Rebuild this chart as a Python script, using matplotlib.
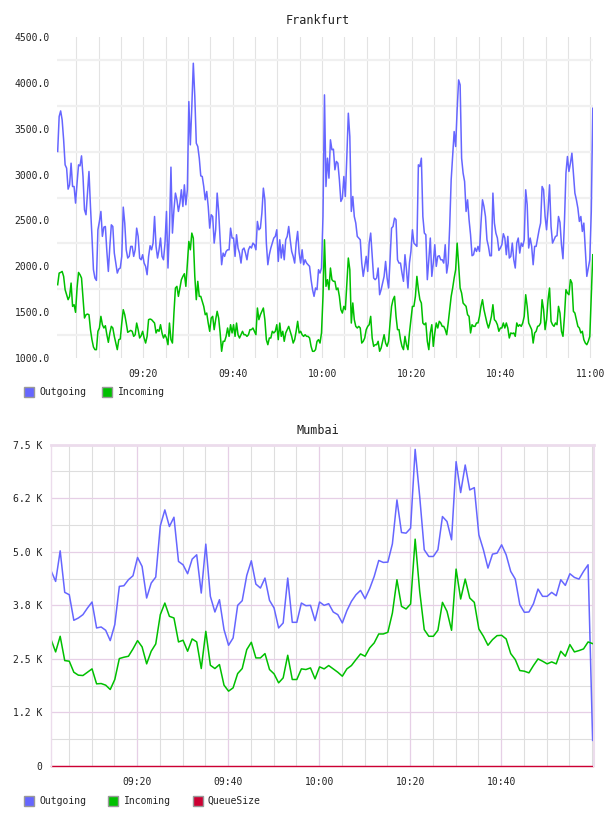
import numpy as np
import pandas as pd
import matplotlib
matplotlib.use("Agg")
import matplotlib.pyplot as plt
import matplotlib.dates as mdates
from matplotlib.patches import Rectangle
from matplotlib.ticker import FuncFormatter, MultipleLocator, FixedLocator

plt.rcParams['font.family'] = ['DejaVu Sans Mono']

# ---- Frankfurt, one sample every 20 s from 09:00:52 ----
fra_start = "2024-01-01 09:00:52"
fra_out = [
    3252, 3633, 3694, 3596, 3379, 3106, 3070, 2841, 2888, 3124, 2870, 2870, 2689, 2906, 3106, 3095,
    3204, 2979, 2616, 2562, 2798, 3034, 2652, 2326, 1963, 1872, 1846, 2398, 2489, 2598, 2326, 2427,
    2434, 2162, 1944, 2217, 2452, 2434, 2144, 2035, 1926, 1970, 1981, 2108, 2645, 2471, 2180, 2090,
    2108, 2217, 2217, 2108, 2180, 2416, 2326, 2090, 2071, 2126, 2035, 1999, 1908, 2108, 2224, 2180,
    2253, 2543, 2217, 2090, 2180, 2308, 2108, 2071, 2253, 2598, 1981, 2398, 3081, 2362, 2616, 2798,
    2725, 2598, 2689, 2834, 2652, 2888, 2670, 2834, 3796, 3324, 3741, 4214, 3851, 3342, 3306, 3179,
    2986, 2979, 2870, 2725, 2816, 2652, 2416, 2562, 2543, 2253, 2398, 2798, 2598, 2289, 2017, 2144,
    2108, 2162, 2180, 2180, 2416, 2308, 2308, 2108, 2344, 2199, 2144,
    2035, 2180, 2199, 2144, 2071, 2180, 2217, 2199, 2253, 2235, 2180, 2489, 2398, 2416, 2580, 2852,
    2725, 2253, 2017, 2126, 2199, 2253, 2308, 2326, 2398, 2053, 2289, 2090, 2235, 2071, 2289, 2326,
    2434, 2289, 2162, 2108, 2035, 2253, 2380, 2144, 2035, 2180, 2017, 2071, 2035, 2017, 1999, 1854,
    1745, 1672, 1763, 1745, 1963, 1926, 1981, 2543, 3869, 2870, 3179, 2961, 3379, 3270, 3277, 3052,
    3143, 3124, 2943, 2707, 2743, 2979, 2761, 3197, 3669, 3415, 2598, 2761, 2543, 2471, 2326, 2308,
    2289, 2035, 1890, 1999, 2108, 1944, 2253, 2362, 2108, 1872, 1854, 1872, 1981, 1690, 1745, 1817,
    1890, 2053, 1872, 1763, 2071, 2416, 2434, 2525, 2507, 2071, 2035, 2035, 1926, 1836, 2126, 1963,
    1763, 2035, 2162, 2398, 2253, 2235, 2217, 3106, 3088,
    3179, 2543, 2362, 2344, 1854, 2071, 2308, 1890, 2035, 2235, 1999, 2108, 2115, 2071, 2071, 2035,
    2235, 1926, 2035, 2434, 2943, 3197, 3469, 3306, 3705, 4032, 3978, 3179, 3016, 2925, 2598, 2725,
    2507, 2344, 2115, 2126, 2199, 2162, 2217, 2162, 2471, 2725, 2652, 2543, 2289, 2217, 2115, 2115,
    2798, 2471, 2362, 2308, 2173, 2199, 2235, 2355, 2308, 2126, 2326, 2090, 2108, 2253, 2071, 1981,
    2253, 2308, 2144, 2253, 2217, 2289, 2834, 2670, 2199, 2308, 2217, 2017, 2217, 2217, 2308, 2398,
    2471, 2870, 2834, 2543, 2398, 2616, 2888, 2434, 2253, 2289, 2326, 2333, 2543, 2478, 2235, 2082,
    2489, 3016, 3197, 3034, 3124, 3233, 3016, 2798, 2725, 2634, 2489, 2543, 2380, 2471, 2180, 1890,
    1981, 2071, 2600, 3723,
]
fra_in = [
    1799, 1926, 1933, 1944, 1890, 1745, 1690, 1636, 1672, 1817, 1563, 1581, 1498, 1763, 1933, 1908,
    1872, 1654, 1436, 1472, 1479, 1472, 1309, 1200, 1120, 1091, 1091, 1291, 1327, 1454, 1363, 1327,
    1352, 1254, 1171, 1273, 1345, 1327, 1236, 1163, 1091, 1200, 1207, 1381, 1527, 1472, 1381, 1280,
    1291, 1301, 1291, 1236, 1254, 1381, 1309, 1218, 1243, 1291, 1218, 1163, 1236, 1418, 1425, 1418,
    1400, 1381, 1273, 1309, 1291, 1363, 1273, 1218, 1254, 1218, 1145, 1381, 1200, 1163, 1490, 1763,
    1781, 1672, 1763, 1854, 1890, 1919, 1781, 2035, 2271, 2180, 2362, 2307, 1890, 1636, 1836, 1672,
    1672, 1618, 1563, 1472, 1490, 1381, 1291, 1436, 1454, 1309, 1418, 1509, 1436, 1273, 1073, 1182,
    1182, 1236, 1327, 1236, 1363, 1273, 1363, 1236, 1381, 1254, 1218,
    1254, 1291, 1254, 1254, 1236, 1254, 1309, 1309, 1327, 1291, 1254, 1545, 1418, 1472, 1509, 1545,
    1418, 1200, 1145, 1218, 1218, 1291, 1273, 1291, 1363, 1200, 1381, 1236, 1291, 1182, 1273, 1309,
    1345, 1291, 1236, 1163, 1200, 1291, 1400, 1273, 1291, 1254, 1236, 1254, 1236, 1236, 1218, 1127,
    1073, 1073, 1091, 1182, 1200, 1163, 1273, 1672, 2289, 1781, 1854, 1745, 1981, 1854, 1836, 1836,
    1745, 1763, 1672, 1527, 1490, 1563, 1527, 1817, 2090, 1963, 1381, 1600, 1418, 1345, 1327, 1345,
    1327, 1163, 1182, 1218, 1309, 1345, 1363, 1454, 1218, 1127, 1145, 1145, 1182, 1073, 1109, 1182,
    1254, 1163, 1127, 1182, 1381, 1563, 1636, 1672, 1454, 1309, 1309, 1200, 1127, 1091, 1236, 1145,
    1091, 1273, 1418, 1563, 1563, 1672, 1890, 1745, 1636,
    1599, 1382, 1363, 1382, 1182, 1091, 1273, 1363, 1127, 1273, 1382, 1327, 1400, 1382, 1345, 1345,
    1309, 1254, 1382, 1527, 1672, 1763, 1872, 1962, 2253, 2017, 1763, 1708, 1599, 1581, 1563, 1472,
    1454, 1273, 1363, 1345, 1345, 1382, 1382, 1454, 1563, 1636, 1527, 1454, 1382, 1327, 1382, 1454,
    1581, 1418, 1400, 1363, 1291, 1327, 1327, 1382, 1327, 1382, 1327, 1218, 1273, 1266, 1273, 1236,
    1382, 1345, 1363, 1345, 1382, 1454, 1690, 1563, 1382, 1345, 1309, 1163, 1273, 1291, 1345, 1352,
    1382, 1636, 1527, 1309, 1418, 1636, 1763, 1400, 1363, 1345, 1382, 1363, 1563, 1490, 1291, 1236,
    1454, 1745, 1708, 1690, 1854, 1817, 1509, 1490, 1418, 1345, 1327, 1273, 1291, 1200, 1163, 1145,
    1182, 1236, 1672, 2126,
]

# ---- Mumbai, one sample per minute from 09:01:07 ----
mum_start = "2024-01-01 09:01:07"
mum_out = [
    4557, 4309, 5023, 4053, 3998, 3401, 3455, 3533, 3688, 3828, 3222, 3245, 3168, 2927, 3300, 4193,
    4208, 4348, 4441, 4868, 4658, 3921, 4270, 4410, 5606, 5978, 5590, 5807, 4775, 4697, 4488, 4829,
    4930, 4037, 5179, 3960, 3595, 3882, 3183, 2818, 2989,
    3750, 3859, 4449, 4790, 4247, 4154, 4387, 3866, 3688, 3222, 3339, 4387, 3354, 3354, 3804, 3742,
    3750, 3393, 3828, 3750, 3789, 3595, 3533, 3339, 3626, 3843, 3998, 4099, 3905, 4138, 4425, 4798,
    4752, 4759, 5186, 6211, 5450, 5435, 5551,
    7391, 6289, 5047, 4891, 4891, 5047, 5823, 5707, 5280, 7104, 6382, 7026, 6444, 6498, 5396, 5047,
    4620, 4946, 4969, 5163, 4930, 4542, 4363, 3766, 3587, 3595, 3789, 4130, 3960, 3960, 4053, 3975,
    4348, 4216, 4488, 4402, 4363, 4542, 4697, 598,
]
mum_in = [
    2950, 2663, 3028, 2461, 2446, 2189, 2120, 2112, 2189, 2267, 1918, 1925, 1887, 1786, 2019, 2508,
    2539, 2562, 2733, 2927, 2780, 2384, 2679, 2849, 3533, 3804, 3494, 3455, 2896, 2935, 2679, 2966,
    2896, 2275, 3144, 2352, 2275, 2368, 1887, 1747, 1825,
    2158, 2275, 2717, 2888, 2523, 2523, 2624, 2252, 2151, 1941, 2057, 2585, 2019, 2019, 2267, 2252,
    2290, 2034, 2314, 2267, 2345, 2267, 2189, 2096, 2267, 2345, 2484, 2616, 2562, 2756, 2873, 3082,
    3082, 3121, 3571, 4348, 3727, 3665, 3781,
    5295, 4076, 3183, 3028, 3028, 3168, 3820, 3610, 3168, 4596, 3898, 4363, 3921, 3820, 3199, 3028,
    2818, 2950, 3043, 3051, 2966, 2624, 2484, 2228, 2213, 2174, 2345, 2500, 2446, 2384, 2430, 2384,
    2679, 2562, 2834, 2663, 2694, 2733, 2896, 2857,
]
mum_queue = [0] * len(mum_out)
mum_major = ["09:20", "09:40", "10:00", "10:20", "10:40"]

fra_t_out = pd.date_range(fra_start, periods=len(fra_out), freq="20s")
fra_t_in = pd.date_range(fra_start, periods=len(fra_in), freq="20s")
mum_t = pd.date_range(mum_start, periods=len(mum_out), freq="60s")

BLUE = '#6666ff'
GREEN = '#00c000'
RED = '#cc0033'
TXT = '#222222'

W, H = 608, 816
fig = plt.figure(figsize=(W / 100, H / 100), dpi=100)
fig.patch.set_facecolor('white')


def box(l, t, r, b):
    return [l / W, 1 - b / H, (r - l) / W, (b - t) / H]


def legend(items, y):
    for px, tx, label, col in items:
        fig.add_artist(Rectangle((px / W, 1 - (y + 5) / H), 10 / W, 10 / H,
                                 transform=fig.transFigure, facecolor=col,
                                 edgecolor='#999999', lw=1))
        fig.text(tx / W, 1 - y / H, label, ha='left', va='center',
                 fontsize=7, color=TXT)


# ---------------- Frankfurt ----------------
ax1 = fig.add_axes(box(57, 37, 593, 358))
ax1.plot(fra_t_out, fra_out, color=BLUE, lw=1.1)
ax1.plot(fra_t_in, fra_in, color=GREEN, lw=1.1)
ax1.set_ylim(1000, 4500)
ax1.set_xlim(pd.Timestamp("2024-01-01 09:00:43"), pd.Timestamp("2024-01-01 11:00:35"))
ax1.yaxis.set_major_locator(MultipleLocator(500))
ax1.yaxis.set_minor_locator(FixedLocator(np.arange(1250, 4500, 500)))
ax1.yaxis.set_major_formatter(FuncFormatter(lambda v, p: f"{v:.1f}"))
ax1.xaxis.set_major_locator(mdates.MinuteLocator(byminute=[0, 20, 40]))
ax1.xaxis.set_minor_locator(mdates.MinuteLocator(byminute=range(0, 60, 5)))
ax1.xaxis.set_major_formatter(mdates.DateFormatter('%H:%M'))
ax1.grid(axis='x', which='both', color='#e3e3e3', lw=0.8)
ax1.grid(axis='y', which='minor', color='#f0f0f0', lw=1.6)
ax1.set_axisbelow(True)
for s in ax1.spines.values():
    s.set_visible(False)
ax1.tick_params(which='both', length=0, labelsize=7, colors=TXT)
ax1.tick_params(axis='y', pad=5)
ax1.tick_params(axis='x', pad=8)
fig.text(318 / W, 1 - 20 / H, 'Frankfurt', ha='center', va='center', fontsize=8.5, color=TXT)
legend([(24.3, 39, 'Outgoing', BLUE), (102.3, 118.3, 'Incoming', GREEN)], 392)

# ---------------- Mumbai ----------------
ax2 = fig.add_axes(box(51, 444.7, 594, 766))
ax2.plot(mum_t, mum_out, color=BLUE, lw=1.1)
ax2.plot(mum_t, mum_in, color=GREEN, lw=1.1)
ax2.plot(mum_t, mum_queue, color=RED, lw=1.0, clip_on=False)
ax2.set_ylim(0, 7500)
ax2.set_xlim(pd.Timestamp("2024-01-01 09:01:06"), pd.Timestamp("2024-01-01 11:00:25"))
ax2.yaxis.set_major_locator(MultipleLocator(1250))
ax2.yaxis.set_minor_locator(MultipleLocator(625))
ax2.yaxis.set_major_formatter(FuncFormatter(lambda v, p: "0" if v == 0 else f"{v / 1000:.1f} K"))
ax2.xaxis.set_major_locator(FixedLocator(
    mdates.date2num(pd.to_datetime(["2024-01-01 " + m for m in mum_major]))))
ax2.xaxis.set_minor_locator(mdates.MinuteLocator(byminute=range(0, 60, 5)))
ax2.xaxis.set_major_formatter(mdates.DateFormatter('%H:%M'))
ax2.grid(which='minor', color='#dedede', lw=0.8)
ax2.grid(which='major', color='#e6cfe6', lw=0.9)
ax2.set_axisbelow(True)
for side in ['left', 'right', 'top']:
    ax2.spines[side].set_color('#ecdcec')
ax2.spines['top'].set_linewidth(2)
ax2.spines['left'].set_linewidth(1)
ax2.spines['right'].set_linewidth(1.5)
ax2.spines['bottom'].set_visible(False)
ax2.tick_params(which='both', length=0, labelsize=7, colors=TXT)
ax2.tick_params(axis='y', pad=6)
ax2.tick_params(axis='x', pad=8)
fig.text(318 / W, 1 - 430 / H, 'Mumbai', ha='center', va='center', fontsize=8.5, color=TXT)
legend([(24.3, 39, 'Outgoing', BLUE), (108.3, 124, 'Incoming', GREEN),
        (192.7, 207, 'QueueSize', RED)], 800.7)

fig.savefig('out.png', dpi=100)
